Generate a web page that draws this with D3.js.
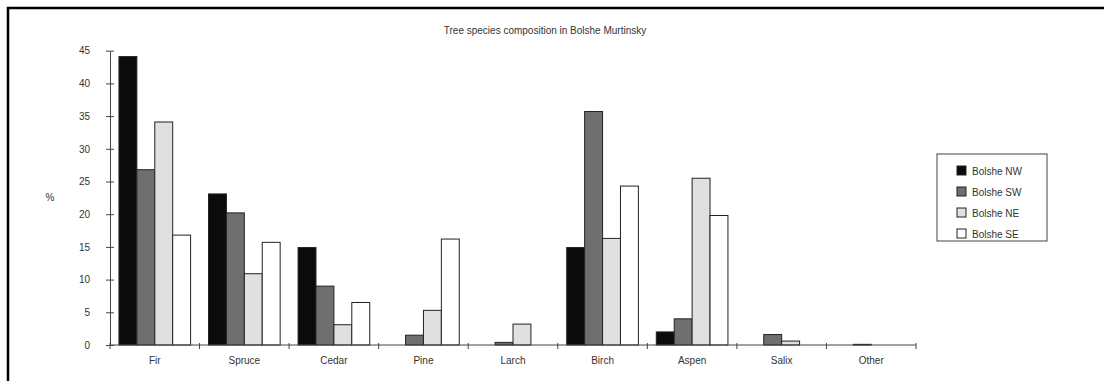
<!DOCTYPE html>
<html>
<head>
<meta charset="utf-8">
<script src="https://cdn.jsdelivr.net/npm/d3@7"></script>
<style>
  html, body { margin: 0; padding: 0; background: #fff; overflow: hidden; }
  svg { display: block; font-family: Arial, "Liberation Sans", sans-serif; }
</style>
</head>
<body>
<svg id="chart" width="1104" height="381"></svg>
<script>
// Tree species shares (%) by site
const species = ["Fir", "Spruce", "Cedar", "Pine", "Larch", "Birch", "Aspen", "Salix", "Other"];
const sites = ["Bolshe NW", "Bolshe SW", "Bolshe NE", "Bolshe SE"];
const bolsheNW = [44.1, 23.1, 14.9, 0, 0, 14.9, 2.0, 0, 0];
const bolsheSW = [26.8, 20.2, 9.0, 1.5, 0.4, 35.7, 4.0, 1.6, 0.1];
const bolsheNE = [34.1, 10.9, 3.1, 5.3, 3.2, 16.3, 25.5, 0.6, 0];
const bolsheSE = [16.8, 15.7, 6.5, 16.2, 0, 24.3, 19.8, 0, 0];
const yTicks = [0, 5, 10, 15, 20, 25, 30, 35, 40, 45];
const fills = ["#0b0b0b", "#6f6f6f", "#e0e0e0", "#ffffff"];

const seriesValues = [bolsheNW, bolsheSW, bolsheNE, bolsheSE];

const svg = d3.select("#chart");

// outer frame (only its top and left edges fall inside the view)
svg.append("rect")
  .attr("x", 8).attr("y", 8).attr("width", 1300).attr("height", 600)
  .attr("fill", "none").attr("stroke", "#000").attr("stroke-width", 2.5);

const plot = { left: 110, right: 916, top: 50.7, bottom: 345 };

const x = d3.scaleBand().domain(species).range([plot.left, plot.right]).paddingInner(0).paddingOuter(0);
const inner = d3.scaleBand().domain(sites).range([0, x.bandwidth()]).paddingInner(0).paddingOuter(0.5);
const y = d3.scaleLinear().domain([0, 45]).range([plot.bottom, plot.top]);
const color = d3.scaleOrdinal().domain(sites).range(fills);

// title
svg.append("text")
  .attr("x", 545).attr("y", 34)
  .attr("text-anchor", "middle")
  .attr("font-size", 10)
  .attr("fill", "#333")
  .text("Tree species composition in Bolshe Murtinsky");

// y axis label
svg.append("text")
  .attr("x", 50).attr("y", 201)
  .attr("text-anchor", "middle")
  .attr("font-size", 10)
  .attr("fill", "#333")
  .text("%");

// bars
const groups = svg.append("g").selectAll("g")
  .data(species)
  .join("g")
  .attr("transform", d => `translate(${x(d)},0)`);

groups.selectAll("rect")
  .data((d, i) => sites.map((s, j) => ({ site: s, value: seriesValues[j][i] })))
  .join("rect")
  .filter(d => d.value > 0)
  .attr("x", d => inner(d.site))
  .attr("y", d => y(d.value))
  .attr("width", inner.bandwidth())
  .attr("height", d => y(0) - y(d.value))
  .attr("fill", d => color(d.site))
  .attr("stroke", "#222")
  .attr("stroke-width", 1);

// y axis
const yAxis = svg.append("g")
  .attr("transform", `translate(${plot.left},0)`)
  .call(d3.axisLeft(y).tickValues(yTicks).tickSize(0).tickPadding(20));
yAxis.select(".domain").attr("stroke", "#444");
yAxis.selectAll(".tick line").attr("x1", -4).attr("x2", 4).attr("stroke", "#444");
yAxis.selectAll(".tick text").attr("font-size", 10).attr("fill", "#333").attr("font-family", "Arial, 'Liberation Sans', sans-serif");

// x axis with ticks on category boundaries
const xAxis = svg.append("g")
  .attr("transform", `translate(0,${plot.bottom})`);
xAxis.append("line")
  .attr("x1", plot.left).attr("x2", plot.right)
  .attr("stroke", "#444");
xAxis.selectAll("line.tk")
  .data(species.map(d => x(d)).concat([plot.right]))
  .join("line")
  .attr("class", "tk")
  .attr("x1", d => d).attr("x2", d => d)
  .attr("y1", -2).attr("y2", 4)
  .attr("stroke", "#444");
xAxis.selectAll("text")
  .data(species)
  .join("text")
  .attr("x", d => x(d) + x.bandwidth() / 2)
  .attr("y", 19)
  .attr("text-anchor", "middle")
  .attr("font-size", 10)
  .attr("fill", "#333")
  .text(d => d);

// legend
const legend = svg.append("g").attr("transform", "translate(937,154)");
legend.append("rect")
  .attr("width", 110).attr("height", 87)
  .attr("fill", "#fff").attr("stroke", "#444").attr("stroke-width", 1);
const items = legend.selectAll("g.item")
  .data(sites)
  .join("g")
  .attr("class", "item")
  .attr("transform", (d, i) => `translate(20,${12 + i * 21})`);
items.append("rect")
  .attr("width", 9).attr("height", 9)
  .attr("fill", d => color(d))
  .attr("stroke", "#222");
items.append("text")
  .attr("x", 15).attr("y", 8.5)
  .attr("font-size", 10)
  .attr("fill", "#333")
  .text(d => d);
</script>
</body>
</html>
